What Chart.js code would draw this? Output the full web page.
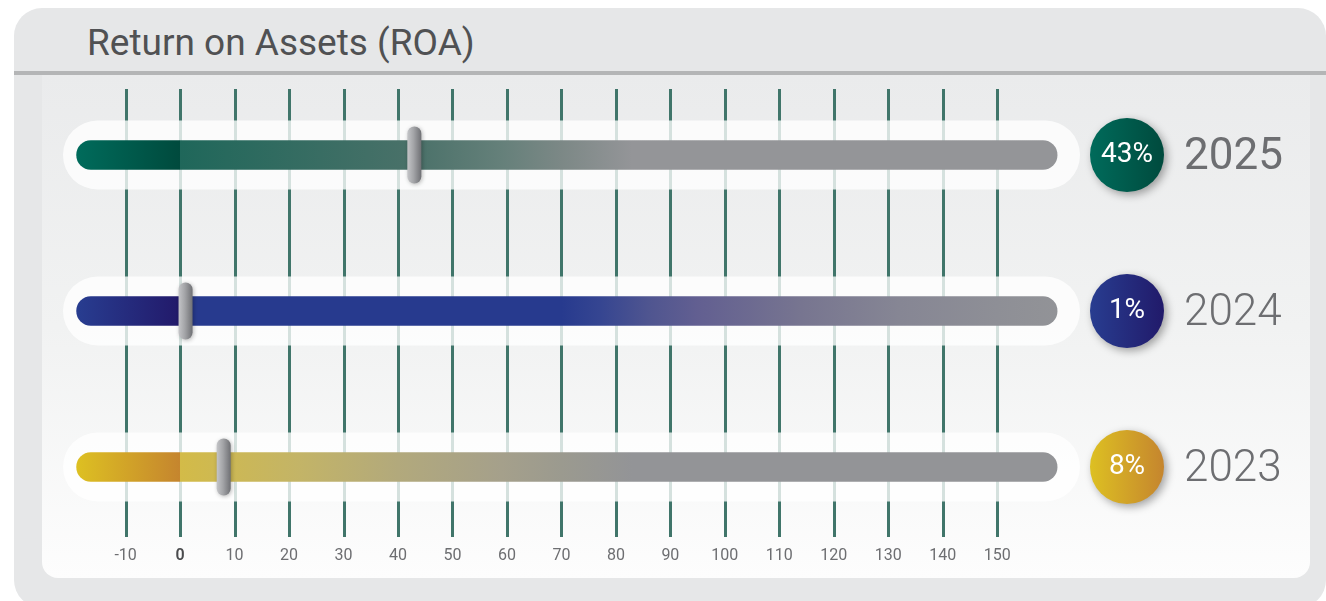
<!DOCTYPE html>
<html>
<head>
<meta charset="utf-8">
<title>Return on Assets (ROA)</title>
<script src="https://cdn.jsdelivr.net/npm/chart.js@4.4.1/dist/chart.umd.min.js"></script>
<style>
  html, body { margin: 0; padding: 0; background: #ffffff; width: 1326px; height: 601px; overflow: hidden; }
  #card { position: absolute; left: 14px; top: 8px; width: 1312px; height: 600px; background: #e6e7e8; border-radius: 28px; }
  #rule { position: absolute; left: 14px; top: 71px; width: 1312px; height: 4px; background: #b4b5b6; }
  #panel { position: absolute; left: 42px; top: 75px; width: 1268px; height: 503px;
           background: linear-gradient(to bottom, #eaebec 0%, #f1f2f2 50%, #fdfdfd 100%);
           border-radius: 0 0 16px 16px; }
  #title { position: absolute; left: 87px; top: 24px; font: 400 37px/37px Roboto, "Liberation Sans", sans-serif;
           color: #505153; white-space: nowrap; }
  #chart { position: absolute; left: 0; top: 0; }
</style>
</head>
<body>
<div id="card"></div>
<div id="rule"></div>
<div id="panel"></div>
<div id="title">Return on Assets (ROA)</div>
<canvas id="chart" width="1326" height="601"></canvas>
<script>
// Years shown, one row each, and the ROA value (percent) for each year
const categories = ['2025', '2024', '2023'];
const roaValues = [43, 1, 8];

// Scale labels along the bottom
const tickValues = [-10, 0, 10, 20, 30, 40, 50, 60, 70, 80, 90, 100, 110, 120, 130, 140, 150];

// Extent of the value axis and of the track drawn in each row
const axisRange = [-21.5, 165.2];
const trackRange = [-19, 161];

// Colour ramps along each track, keyed by axis value
const trackStops = [
  [[-19, '#006b5b'], [-0.01, '#004a3d'], [0, '#1f675a'], [43, '#4a7169'], [59, '#65807a'], [70, '#7c8886'], [83, '#949598'], [161, '#949598']],
  [[-19, '#283d90'], [-0.01, '#22196a'], [0, '#273a8e'], [70, '#273a8e'], [77, '#354591'], [86, '#4f5590'], [95, '#625f91'], [114, '#777590'], [132, '#868694'], [150, '#8e8f96'], [161, '#929397']],
  [[-19, '#ddc022'], [-0.01, '#c5852e'], [0, '#d3bb48'], [22, '#c3b467'], [40, '#b2a97c'], [59, '#a5a08b'], [70, '#9b9a8f'], [83, '#939497'], [161, '#939497']]
];

// Badge colours (left, right) for each row
const badgeColors = [
  ['#006b5b', '#004a3d'],
  ['#283d90', '#211a6a'],
  ['#ddc022', '#c5852e']
];

const FONT = 'Roboto, "Liberation Sans", sans-serif';

function trackGradient(chart, i) {
  const xs = chart.scales.x;
  const x0 = xs.getPixelForValue(trackRange[0]);
  const x1 = xs.getPixelForValue(trackRange[1]);
  const g = chart.ctx.createLinearGradient(x0, 0, x1, 0);
  const span = trackRange[1] - trackRange[0];
  trackStops[i].forEach(([v, c]) => {
    g.addColorStop(Math.min(1, Math.max(0, (v - trackRange[0]) / span)), c);
  });
  return g;
}

// Grid lines and the pale rounded band behind every track
const backdropPlugin = {
  id: 'backdrop',
  beforeDatasetsDraw(chart) {
    const { ctx, chartArea, scales: { x, y } } = chart;
    ctx.save();
    ctx.strokeStyle = '#40756a';
    ctx.lineWidth = 3;
    tickValues.forEach(v => {
      const px = Math.round(x.getPixelForValue(v)) + 0.5;
      ctx.beginPath();
      ctx.moveTo(px, chartArea.top + 12);
      ctx.lineTo(px, chartArea.bottom - 8);
      ctx.stroke();
    });
    ctx.fillStyle = 'rgba(255,255,255,0.78)';
    categories.forEach((c, i) => {
      const cy = y.getPixelForValue(i);
      const h = 69;
      ctx.beginPath();
      ctx.roundRect(chartArea.left, cy - h / 2, chartArea.right - chartArea.left, h, h / 2);
      ctx.fill();
    });
    ctx.restore();
  }
};

// Slider knob at each value, plus the round value badge and the year
const markerPlugin = {
  id: 'markers',
  afterDatasetsDraw(chart) {
    const { ctx, chartArea, scales: { x, y } } = chart;
    roaValues.forEach((v, i) => {
      const cy = y.getPixelForValue(i);

      // knob
      const kx = x.getPixelForValue(v);
      const w = 14, h = 57;
      ctx.save();
      ctx.shadowColor = 'rgba(0,0,0,0.28)';
      ctx.shadowBlur = 4;
      ctx.shadowOffsetX = 1;
      ctx.shadowOffsetY = 1;
      const kg = ctx.createLinearGradient(kx - w / 2, 0, kx + w / 2, 0);
      kg.addColorStop(0, '#c4c5c8');
      kg.addColorStop(0.45, '#a3a4a7');
      kg.addColorStop(1, '#6f7074');
      ctx.fillStyle = kg;
      ctx.beginPath();
      ctx.roundRect(kx - w / 2, cy - h / 2, w, h, w / 2);
      ctx.fill();
      ctx.restore();

      // badge
      const bx = chartArea.right + 47;
      const r = 37;
      ctx.save();
      ctx.shadowColor = 'rgba(0,0,0,0.35)';
      ctx.shadowBlur = 8;
      ctx.shadowOffsetX = 3;
      ctx.shadowOffsetY = 3;
      const bg = ctx.createLinearGradient(bx - r, 0, bx + r, 0);
      bg.addColorStop(0, badgeColors[i][0]);
      bg.addColorStop(1, badgeColors[i][1]);
      ctx.fillStyle = bg;
      ctx.beginPath();
      ctx.arc(bx, cy, r, 0, Math.PI * 2);
      ctx.fill();
      ctx.restore();

      ctx.save();
      ctx.fillStyle = '#ffffff';
      ctx.font = '400 28px ' + FONT;
      ctx.textAlign = 'center';
      ctx.textBaseline = 'middle';
      ctx.fillText(v + '%', bx, cy);

      // year
      ctx.fillStyle = '#6d6e71';
      ctx.font = (i === 0 ? '400' : '300') + ' 44px ' + FONT;
      ctx.textAlign = 'left';
      ctx.textBaseline = 'middle';
      ctx.fillText(categories[i], chartArea.right + 104, cy + 3);
      ctx.restore();
    });
  }
};

new Chart(document.getElementById('chart'), {
  type: 'bar',
  data: {
    labels: categories,
    datasets: [{
      label: 'ROA',
      data: categories.map(() => trackRange.slice()),
      backgroundColor: ctx => ctx.chart.chartArea ? trackGradient(ctx.chart, ctx.dataIndex) : '#949598',
      borderRadius: 15,
      borderSkipped: false,
      barThickness: 29,
      grouped: false
    }]
  },
  options: {
    indexAxis: 'y',
    responsive: false,
    devicePixelRatio: 1,
    animation: false,
    layout: { padding: { left: 63, right: 246, top: 77, bottom: 26 } },
    plugins: { legend: { display: false }, tooltip: { enabled: false }, title: { display: false } },
    scales: {
      x: {
        type: 'linear',
        min: axisRange[0],
        max: axisRange[1],
        afterBuildTicks: s => { s.ticks = tickValues.map(v => ({ value: v })); },
        afterFit: s => { s.height = 30; },
        grid: { display: false, drawTicks: false },
        border: { display: false },
        ticks: {
          autoSkip: false,
          maxRotation: 0,
          padding: 1,
          color: c => (c.tick && c.tick.value === 0 ? '#4a4b4d' : '#6d6e71'),
          font: c => ({ family: FONT, size: 16, weight: (c.tick && c.tick.value === 0) ? '600' : '400' })
        }
      },
      y: {
        type: 'category',
        display: false,
        offset: true
      }
    }
  },
  plugins: [backdropPlugin, markerPlugin]
});
</script>
</body>
</html>
